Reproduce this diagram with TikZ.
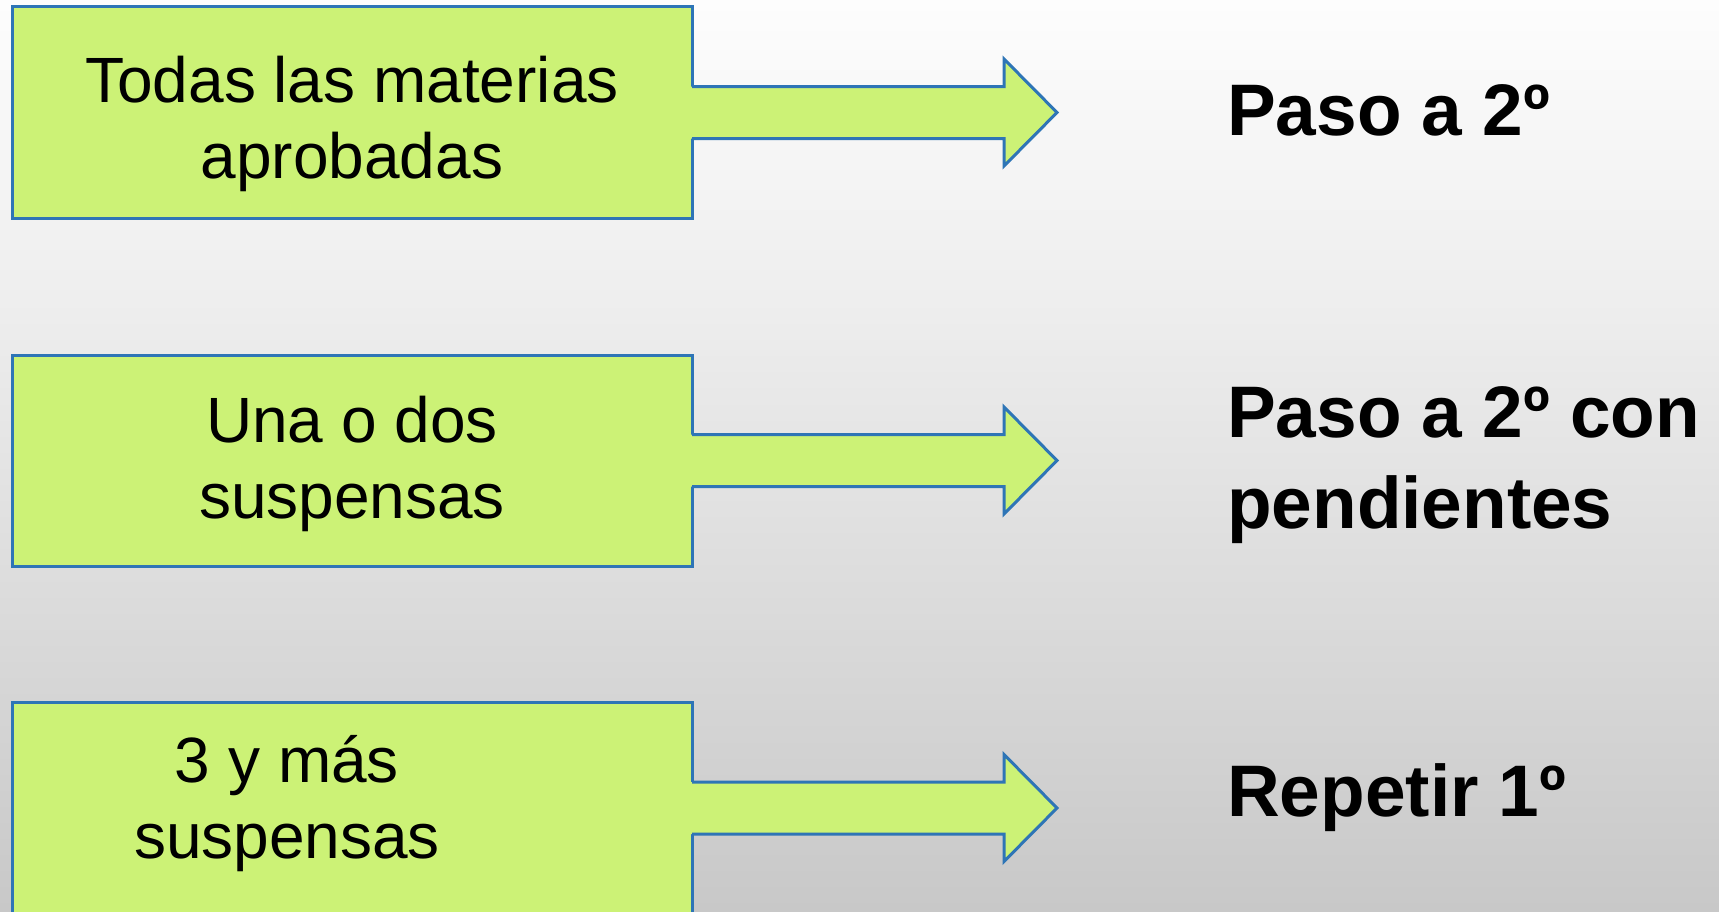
\documentclass[tikz,border=0pt]{standalone}
\usepackage{fontspec}
\setmainfont{Liberation Sans}
\usetikzlibrary{calc}
\definecolor{boxgreen}{RGB}{204,242,118}
\definecolor{boxblue}{RGB}{46,117,182}
\definecolor{bgtop}{RGB}{253,253,253}
\definecolor{bgmid}{RGB}{238,238,238}
\definecolor{bgbottom}{RGB}{200,200,200}
\begin{document}
\begin{tikzpicture}[x=1bp,y=-1bp,
  boxstyle/.style={draw=boxblue, line width=3bp, fill=boxgreen, minimum width=679bp,
    minimum height=211bp, inner sep=0pt, outer sep=0pt},
  shaftfill/.style={fill=boxgreen},
  arrowline/.style={draw=boxblue, line width=3bp, line join=miter},
  lefttext/.style={font=\fontsize{64bp}{76bp}\selectfont, align=center, inner sep=0pt, anchor=base},
  righttext/.style={font=\fontsize{73bp}{91bp}\selectfont\bfseries, align=left, inner sep=0pt, anchor=base west}]
\useasboundingbox (0,0) rectangle (1719,911);
\clip (0,0) rectangle (1719,911);
\shade[top color=bgtop, bottom color=bgmid] (0,0) rectangle (1719,300);
\shade[top color=bgmid, bottom color=bgbottom] (0,299.5) rectangle (1719,911);

% boxes
\node[boxstyle] (b1) at (352.5,112.5) {};
\node[boxstyle] (b2) at (352.5,460.5) {};
\node[boxstyle] (b3) at (352.5,808) {};

% arrow tips
\coordinate (tip1) at (1057,112.5);
\coordinate (tip2) at (1057,460.5);
\coordinate (tip3) at (1057,808);

\foreach \i in {1,2,3}{
  \fill[shaftfill] ([shift={(-1.5,-26)}]b\i.east) -- ([shift={(312,-26)}]b\i.east)
    -- ([shift={(312,-53.5)}]b\i.east) -- (tip\i) -- ([shift={(312,53.5)}]b\i.east)
    -- ([shift={(312,26)}]b\i.east) -- ([shift={(-1.5,26)}]b\i.east) -- cycle;
  \draw[arrowline] ([shift={(0,-26)}]b\i.east) -- ([shift={(312,-26)}]b\i.east)
    -- ([shift={(312,-53.5)}]b\i.east) -- (tip\i) -- ([shift={(312,53.5)}]b\i.east)
    -- ([shift={(312,26)}]b\i.east) -- ([shift={(0,26)}]b\i.east);
}

% left texts (anchor = baseline of last line)
\node[lefttext] (l1) at (352,178) {Todas las materias\\aprobadas};
\node[lefttext] (l2) at (352,518) {Una o dos\\suspensas};
\node[lefttext] (l3) at (287,858) {3 y más\\suspensas};

% right texts
\node[righttext] (r1) at (1227,135) {Paso a 2º};
\node[righttext] (r2) at (1227,528) {Paso a 2º con\\pendientes};
\node[righttext] (r3) at (1227,816) {Repetir 1º};
\end{tikzpicture}
\end{document}
